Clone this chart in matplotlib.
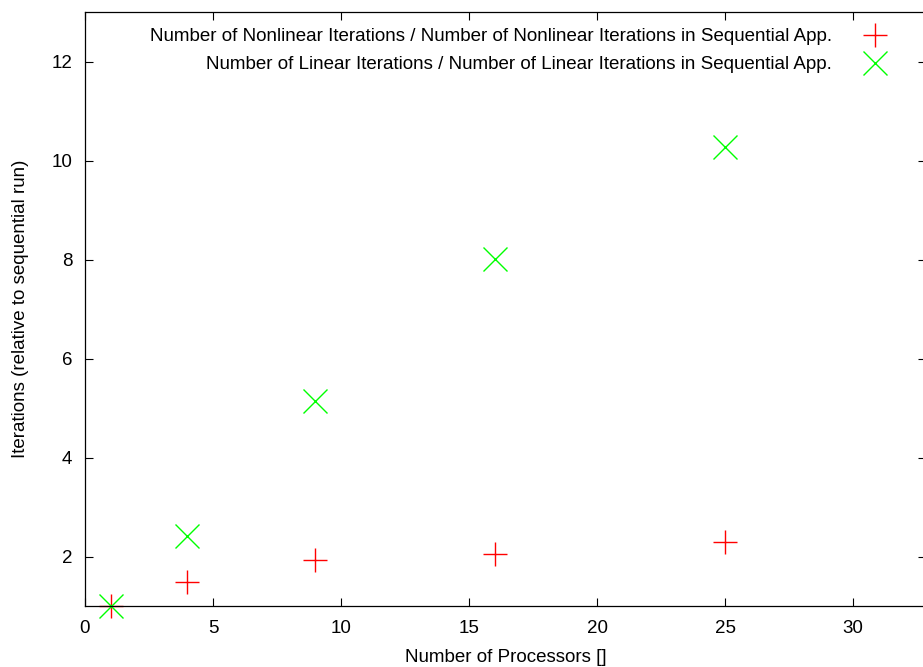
import matplotlib
matplotlib.use("Agg")
from matplotlib import pyplot as plt

procs = [1, 4, 9, 16, 25]
nonlinear_ratio = [1.0, 1.48, 1.92, 2.05, 2.30]
linear_ratio = [1.0, 2.42, 5.15, 8.02, 10.27]

plt.rcParams['font.family'] = ['Liberation Sans', 'DejaVu Sans']
plt.rcParams['font.size'] = 13.5

W, H = 923, 667
fig = plt.figure(figsize=(W / 100, H / 100), dpi=100)
ax = fig.add_axes([85 / W, (H - 606) / H, (926 - 85) / W, (606 - 12) / H])

ax.plot(procs, nonlinear_ratio, linestyle='none', marker='+', color='#ff0000',
        markersize=17, markeredgewidth=1.0, clip_on=False,
        label='Number of Nonlinear Iterations / Number of Nonlinear Iterations in Sequential App.')
ax.plot(procs, linear_ratio, linestyle='none', marker='x', color='#00ff00',
        markersize=17, markeredgewidth=1.0, clip_on=False,
        label='Number of Linear Iterations / Number of Linear Iterations in Sequential App.')

ax.set_xlim(0, (926 - 85) / 25.6)
ax.set_ylim(1, 13)
ax.set_xticks([0, 5, 10, 15, 20, 25, 30])
ax.set_yticks([2, 4, 6, 8, 10, 12])
ax.tick_params(direction='in', top=True, right=True, length=6, width=0.8)
ax.tick_params(axis='x', pad=10)
ax.tick_params(axis='y', pad=9)
for s in ax.spines.values():
    s.set_linewidth(0.9)

ax.set_xlabel('Number of Processors []', labelpad=9)
ax.set_ylabel('Iterations (relative to sequential run)', labelpad=16)

ax.legend(loc='upper right', bbox_to_anchor=((910 - 85) / (926 - 85), 1.0), frameon=False,
          markerfirst=False, handlelength=2.0, handletextpad=1.3, labelspacing=0.6,
          borderaxespad=0.45)

fig.savefig('out.png', dpi=100)
